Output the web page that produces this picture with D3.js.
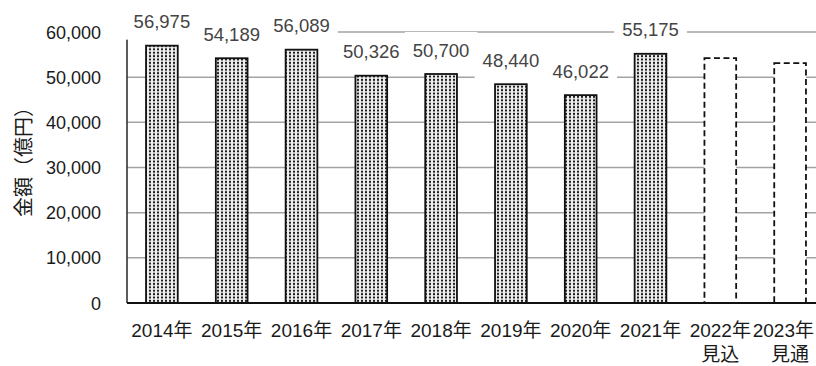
<!DOCTYPE html>
<html>
<head>
<meta charset="utf-8">
<script src="https://cdn.jsdelivr.net/npm/d3@7"></script>
<style>
  html, body { margin: 0; padding: 0; background: #fff; }
  svg { display: block; }
  text { font-family: "Liberation Sans", "Noto Sans CJK JP", sans-serif; }
</style>
</head>
<body>
<div id="chart"></div>
<script>
// Annual amounts (億円); the last two years are an estimate and a forecast
const years = ["2014年", "2015年", "2016年", "2017年", "2018年", "2019年", "2020年", "2021年", "2022年", "2023年"];
const subLabels = ["", "", "", "", "", "", "", "", "見込", "見通"];
const amounts = [56975, 54189, 56089, 50326, 50700, 48440, 46022, 55175, 54200, 53100];
const isProjected = [false, false, false, false, false, false, false, false, true, true];
const showValue = [true, true, true, true, true, true, true, true, false, false];
const yTicks = [0, 10000, 20000, 30000, 40000, 50000, 60000];

const W = 816, H = 366;
const M = { left: 127, right: 825, top: 32, bottom: 303 };

const svg = d3.select("#chart").append("svg")
  .attr("width", W).attr("height", H);

// Dotted fill used by the actual-value bars
const defs = svg.append("defs");
const pat = defs.append("pattern")
  .attr("id", "dots").attr("patternUnits", "userSpaceOnUse")
  .attr("width", 4).attr("height", 3.4);
pat.append("rect").attr("width", 4).attr("height", 3.4).attr("fill", "#eeeeee");
pat.append("rect").attr("x", 1).attr("y", 0.7).attr("width", 2).attr("height", 2).attr("fill", "#1e1e1e");

const x = d3.scaleBand()
  .domain(years)
  .range([M.left, M.right])
  .paddingInner(1.2 / 2.2)
  .paddingOuter(0.6 / 2.2);

const y = d3.scaleLinear().domain([0, 60000]).range([M.bottom, M.top]);

const data = years.map((yr, i) => ({
  year: yr, sub: subLabels[i], value: amounts[i], projected: isProjected[i], labelled: showValue[i]
}));

// Horizontal gridlines
svg.append("g")
  .selectAll("line")
  .data(yTicks.filter(t => t > 0))
  .join("line")
  .attr("x1", M.left).attr("x2", M.right)
  .attr("y1", d => y(d)).attr("y2", d => y(d))
  .attr("stroke", "#a3a3a3").attr("stroke-width", 1.5);

// Vertical axis line
svg.append("line")
  .attr("x1", M.left).attr("x2", M.left)
  .attr("y1", y(60000)).attr("y2", M.bottom)
  .attr("stroke", "#333").attr("stroke-width", 1.6);

// Y tick labels
svg.append("g")
  .selectAll("text")
  .data(yTicks)
  .join("text")
  .attr("x", 101).attr("y", d => y(d) + 6.5)
  .attr("text-anchor", "end")
  .attr("font-size", 18)
  .attr("fill", "#1a1a1a")
  .text(d => d3.format(",")(d));

// Bars
const bw = x.bandwidth();
svg.append("g")
  .selectAll("rect")
  .data(data)
  .join("rect")
  .attr("x", d => x(d.year))
  .attr("y", d => y(d.value))
  .attr("width", bw)
  .attr("height", d => y(0) - y(d.value))
  .attr("fill", d => d.projected ? "#fff" : "url(#dots)")
  .attr("stroke", "#111")
  .attr("stroke-width", 1.8)
  .attr("stroke-dasharray", d => d.projected ? "6,3.5" : null);

// Category axis line
svg.append("line")
  .attr("x1", M.left).attr("x2", W)
  .attr("y1", M.bottom).attr("y2", M.bottom)
  .attr("stroke", "#111").attr("stroke-width", 2);

// Value labels on white boxes
const lbl = svg.append("g")
  .selectAll("g")
  .data(data.filter(d => d.labelled))
  .join("g");
lbl.each(function (d) {
  const g = d3.select(this);
  const cx = x(d.year) + bw / 2;
  const cy = y(d.value) - 24;
  const t = g.append("text")
    .attr("x", cx).attr("y", cy + 6.5)
    .attr("text-anchor", "middle")
    .attr("font-size", 18.5)
    .attr("fill", "#444")
    .text(d3.format(",")(d.value));
  const bb = t.node().getBBox();
  g.insert("rect", "text")
    .attr("x", bb.x - 8).attr("width", bb.width + 16)
    .attr("y", cy - 18).attr("height", 36)
    .attr("fill", "#fff");
});

// Category labels (kept inside the right edge)
const xl = svg.append("g")
  .selectAll("g")
  .data(data)
  .join("g");
xl.append("text")
  .attr("x", d => x(d.year) + bw / 2).attr("y", 337)
  .attr("text-anchor", "middle")
  .attr("font-size", 19)
  .attr("fill", "#1a1a1a")
  .text(d => d.year)
  .each(function () {
    const bb = this.getBBox();
    const over = bb.x + bb.width - (W - 2);
    if (over > 0) d3.select(this).attr("x", +d3.select(this).attr("x") - over);
  });
xl.filter(d => d.sub).append("text")
  .attr("x", d => x(d.year) + bw / 2).attr("y", 361)
  .attr("text-anchor", "middle")
  .attr("font-size", 19)
  .attr("fill", "#1a1a1a")
  .text(d => d.sub);

// Axis title
svg.append("text")
  .attr("transform", "translate(22,157) rotate(-90)")
  .attr("text-anchor", "middle")
  .attr("dominant-baseline", "central")
  .attr("font-size", 20)
  .style("font-family", "'Noto Sans CJK JP', sans-serif")
  .attr("fill", "#1a1a1a")
  .text("金額（億円）");
</script>
</body>
</html>
